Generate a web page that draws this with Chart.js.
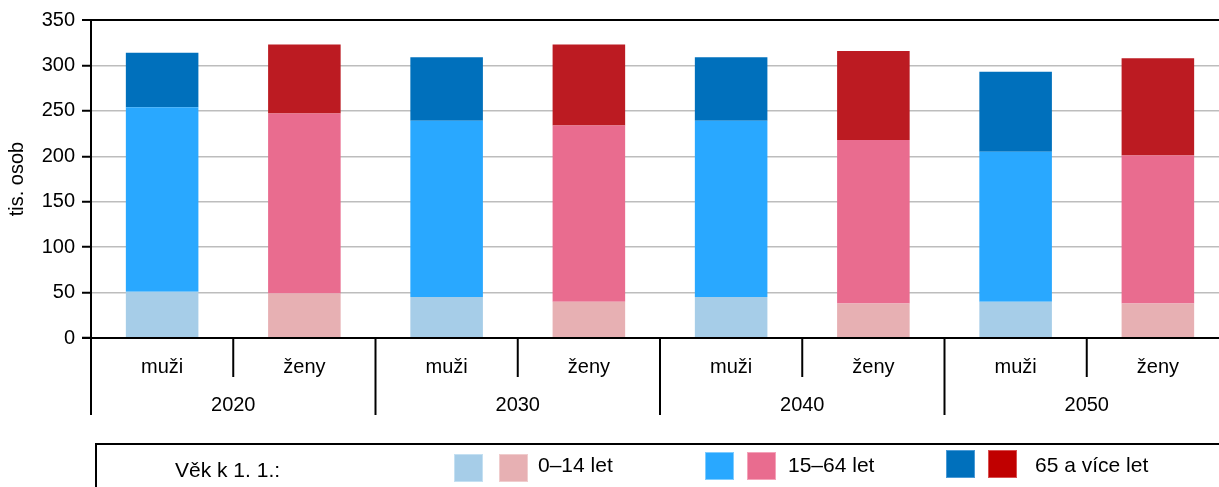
<!DOCTYPE html>
<html>
<head>
<meta charset="utf-8">
<script src="https://cdn.jsdelivr.net/npm/chart.js@4"></script>
<style>
  html, body { margin: 0; padding: 0; background: #fff; overflow: hidden; }
  #wrap { position: relative; width: 1219px; height: 487px; overflow: hidden; font-family: "Liberation Sans", Arial, sans-serif; }
  #c { position: absolute; left: 0; top: 0; }
  .lg { position: absolute; }
  .sw { position: absolute; width: 29px; height: 28px; box-sizing: border-box; }
  .tx { position: absolute; font-size: 21px; line-height: 24px; color: #000; white-space: nowrap; }
</style>
</head>
<body>
<div id="wrap">
  <canvas id="c" width="1230" height="487"></canvas>
  <div class="lg" style="left:95px; top:443px; width:1200px; height:60px; border-top:2px solid #000; border-left:2px solid #000;"></div>
  <div class="tx" style="left:175px; top:458px;">Věk k 1. 1.:</div>
  <div class="sw" style="left:454px; top:454px; background:#a6cde8; border:1px solid #c4e0f2;"></div>
  <div class="sw" style="left:499px; top:454px; background:#e7b0b3; border:1px solid #f0cccd;"></div>
  <div class="tx" style="left:538px; top:453px;">0–14 let</div>
  <div class="sw" style="left:705px; top:452px; background:#29a8ff; border:1px solid #7fccff;"></div>
  <div class="sw" style="left:747px; top:452px; background:#e96c8f; border:1px solid #f4a3b9;"></div>
  <div class="tx" style="left:788px; top:453px;">15–64 let</div>
  <div class="sw" style="left:946px; top:450px; background:#0070bc; border:1px solid #4a9ad6;"></div>
  <div class="sw" style="left:988px; top:450px; background:#c00000; border:1px solid #d85050;"></div>
  <div class="tx" style="left:1035px; top:453px;">65 a více let</div>
</div>
<script>
const categories = ['muži', 'ženy', 'muži', 'ženy', 'muži', 'ženy', 'muži', 'ženy'];
const years = ['2020', '2030', '2040', '2050'];
const age0_14 = [51, 49, 45, 40, 45, 38, 40, 38];
const age15_64 = [203, 198, 194, 194, 194, 180, 165, 163];
const age65plus = [60, 76, 70, 89, 70, 98, 88, 107];
const yTicks = [0, 50, 100, 150, 200, 250, 300, 350];

const colMen = ['#a6cde8', '#29a8ff', '#0070bc'];
const colWomen = ['#e7b0b3', '#e96c8f', '#bc1b22'];
const colorsFor = (k) => categories.map(c => c === 'muži' ? colMen[k] : colWomen[k]);

const FONT = '"Liberation Sans", Arial, sans-serif';

const xLabelsPlugin = {
  id: 'xLabels',
  afterDraw(chart) {
    const ctx = chart.ctx;
    const xs = chart.scales.x;
    const area = chart.chartArea;
    const step = xs.getPixelForValue(1) - xs.getPixelForValue(0);
    ctx.save();
    ctx.strokeStyle = '#000';
    ctx.lineWidth = 2;
    ctx.beginPath();
    ctx.moveTo(area.left - 9, area.bottom);
    ctx.lineTo(area.right + 5, area.bottom);
    ctx.stroke();
    for (let i = 0; i <= categories.length; i++) {
      const x = xs.getPixelForValue(0) + (i - 0.5) * step;
      const yEnd = (i % 2 === 0) ? area.bottom + 77 : area.bottom + 39;
      ctx.beginPath();
      ctx.moveTo(x, area.bottom);
      ctx.lineTo(x, yEnd);
      ctx.stroke();
    }
    ctx.fillStyle = '#000';
    ctx.font = '20px ' + FONT;
    ctx.textAlign = 'center';
    ctx.textBaseline = 'middle';
    categories.forEach((c, i) => {
      ctx.fillText(c, xs.getPixelForValue(i), area.bottom + 29);
    });
    years.forEach((y, g) => {
      const cx = (xs.getPixelForValue(2 * g) + xs.getPixelForValue(2 * g + 1)) / 2;
      ctx.fillText(y, cx, area.bottom + 67);
    });
    ctx.restore();
  }
};

new Chart(document.getElementById('c'), {
  type: 'bar',
  data: {
    labels: categories,
    datasets: [
      { label: '0–14 let', data: age0_14, backgroundColor: colorsFor(0) },
      { label: '15–64 let', data: age15_64, backgroundColor: colorsFor(1) },
      { label: '65 a více let', data: age65plus, backgroundColor: colorsFor(2) }
    ]
  },
  options: {
    responsive: false,
    animation: false,
    devicePixelRatio: 1,
    layout: { padding: { top: 20, right: 1, left: 0, bottom: 0 } },
    datasets: { bar: { barPercentage: 0.51, categoryPercentage: 1.0 } },
    plugins: { legend: { display: false }, tooltip: { enabled: false } },
    scales: {
      x: {
        stacked: true,
        grid: { display: false },
        border: { display: false },
        ticks: { display: false },
        afterFit(s) { s.height = 149; }
      },
      y: {
        stacked: true,
        min: 0,
        max: 350,
        afterBuildTicks(s) { s.ticks = yTicks.map(v => ({ value: v })); },
        afterFit(s) { s.width = 91; },
        ticks: { color: '#000', font: { family: FONT, size: 20 }, padding: 7 },
        grid: {
          color: (c) => (c.tick && (c.tick.value === 350)) ? '#000' : (c.tick && c.tick.value === 0 ? 'rgba(0,0,0,0)' : '#bdbdbd'),
          lineWidth: (c) => (c.tick && c.tick.value === 350) ? 2 : 1.5,
          tickColor: '#000',
          tickWidth: 2,
          tickLength: 9
        },
        border: { display: true, color: '#000', width: 2 },
        title: { display: true, text: 'tis. osob', color: '#000', font: { family: FONT, size: 20 }, padding: { top: 5, bottom: 0 } }
      }
    }
  },
  plugins: [xLabelsPlugin]
});
</script>
</body>
</html>
